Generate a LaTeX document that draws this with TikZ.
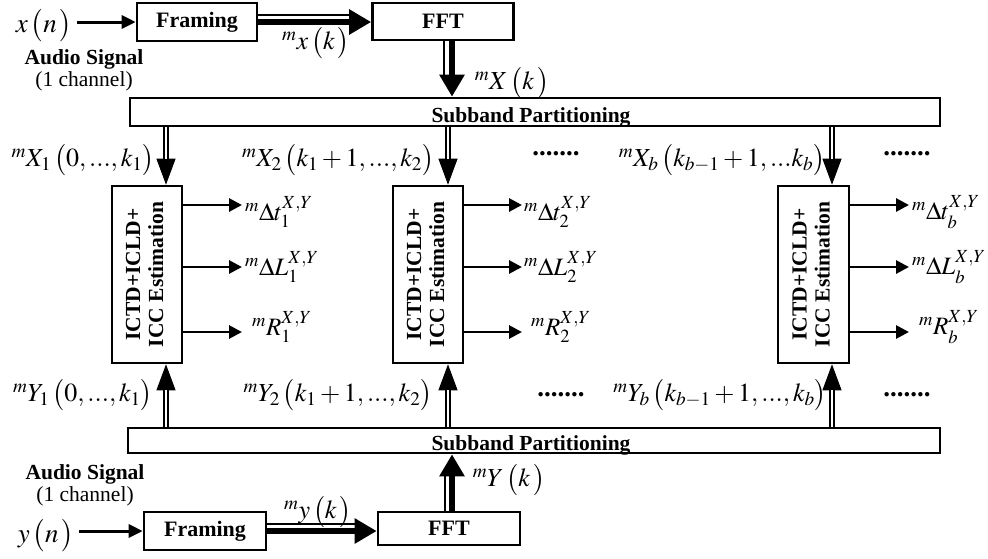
\documentclass[tikz,border=0pt]{standalone}
\usepackage{mathptmx}
\usepackage[no-math]{fontspec}
\setmainfont{Liberation Serif}
\usepackage{graphicx}
\usetikzlibrary{arrows.meta}

\tikzset{
  blk/.style={draw, line width=2.6pt, inner sep=0pt, font=\bfseries\fontsize{22}{24}\selectfont},
  lbl/.style={inner sep=0pt, font=\fontsize{26}{28}\selectfont},
  biglbl/.style={inner sep=0pt, font=\fontsize{27}{30}\selectfont},
  outlbl/.style={inner sep=0pt, anchor=west, font=\fontsize{25}{28}\selectfont},
  note/.style={inner sep=0pt, align=center, font=\fontsize{21.5}{22}\selectfont},
  boldlbl/.style={inner sep=0pt, anchor=base, font=\bfseries\fontsize{21.5}{23}\selectfont},
  dotlbl/.style={inner sep=0pt, font=\bfseries\fontsize{27}{28}\selectfont},
  fatline/.style={line width=6pt, -{Triangle[length=22pt,width=24pt]}},
  slim/.style={line width=1.6pt},
  inarrow/.style={line width=3pt, shorten <=5pt, -{Triangle[length=14pt,width=13pt]}},
  outarrow/.style={line width=2.8pt, -{Triangle[length=13pt,width=13pt]}},
  tiparrow/.style={line width=1pt, -{Triangle[length=26pt,width=19pt]}},
  dbl/.style={double, line width=1.6pt, double distance=2.6pt, shorten >=26pt},
  est/.style={blk, minimum width=70pt, minimum height=177pt, font=\bfseries\fontsize{21.5}{23}\selectfont},
}
\newcommand{\esttext}{\rotatebox{90}{\begin{tabular}{@{}c@{}}ICTD+ICLD+\\ICC Estimation\end{tabular}}}

\begin{document}
\begin{tikzpicture}[x=1pt, y=-1pt]
\useasboundingbox (0,0) rectangle (988,558);

% x positions of the vertical connectors
\coordinate (c1) at (166,0);
\coordinate (c2) at (448,0);
\coordinate (c3) at (832,0);
\coordinate (vx) at (452,0);

% ---------- upper channel ----------
\node[biglbl] (xn) at (44,26) {$x\,\bigl(n\,\bigr)$};
\node[note] (aud1) at (84,70) {\textbf{Audio Signal}\\(1 channel)};
\node[blk, minimum width=120pt, minimum height=38pt] (fr1) at (197,22) {Framing};
\node[blk, minimum width=141pt, minimum height=37pt] (fft1) at (443,21.5) {FFT};
\node[lbl] (mxk) at (316,43) {${}^{m}x\,\bigl(k\,\bigr)$};
\node[lbl] (mXk) at (512,83) {${}^{m}X\,\bigl(k\,\bigr)$};
\node[blk, minimum width=810pt, minimum height=28pt] (sb1) at (535,112) {};
\node[boldlbl] (sb1t) at (531,122) {Subband Partitioning};

\draw[inarrow] (xn.east |- fr1.west) -- (fr1.west);
\draw[fatline] (fr1.east) -- (fr1.east -| fft1.west);
\draw[slim] ([yshift=7pt]fr1.east) -- ([yshift=7pt,xshift=-21pt]fr1.east -| fft1.west);
\draw[fatline] (fft1.south -| vx) -- (sb1.north -| vx);
\draw[slim] ([xshift=-8pt]fft1.south -| vx) -- ([xshift=-8pt,yshift=21pt]sb1.north -| vx);

\node[lbl] (mX1) at (83,160) {${}^{m}X_1\,\bigl(0,...,k_1\bigr)$};
\node[lbl] (mX2) at (338,160) {${}^{m}X_2\,\bigl(k_1+1,...,k_2\bigr)$};
\node[dotlbl] (dx1) at (556,154) {.......};
\node[lbl] (mXb) at (722,160) {${}^{m}X_b\,\bigl(k_{b-1}+1,...k_b\bigr)$};
\node[dotlbl] (dx2) at (907,154) {.......};

% ---------- estimation blocks ----------
\node[est] (ictd1) at (147,274.5) {\esttext};
\node[est] (ictd2) at (428,274.5) {\esttext};
\node[est, minimum width=71pt] (ictd3) at (813.5,274.5) {\esttext};

\foreach \b/\c in {1/c1, 2/c2, 3/c3}{
  \draw[tiparrow] (sb1.south -| \c) -- (ictd\b.north -| \c);
  \draw[dbl] (sb1.south -| \c) -- (ictd\b.north -| \c);
}

% outputs of each block
\coordinate (o11) at (242,205);
\coordinate (o12) at (242,267);
\coordinate (o13) at (242,332);
\coordinate (o21) at (522,205);
\coordinate (o22) at (522,267);
\coordinate (o23) at (522,332);
\coordinate (o31) at (909,205);
\coordinate (o32) at (909,267);
\coordinate (o33) at (909,332);
\foreach \b in {1,2,3}{
  \foreach \k in {1,2,3}{
    \draw[outarrow] (ictd\b.east |- o\b\k) -- (o\b\k);
  }
}
\node[outlbl] (t1) at (245,212) {${}^{m}\Delta t_1^{X,Y}$};
\node[outlbl] (l1) at (245,267) {${}^{m}\Delta L_1^{X,Y}$};
\node[outlbl] (r1) at (252,327) {${}^{m}R_1^{X,Y}$};
\node[outlbl] (t2) at (524,212) {${}^{m}\Delta t_2^{X,Y}$};
\node[outlbl] (l2) at (524,267) {${}^{m}\Delta L_2^{X,Y}$};
\node[outlbl] (r2) at (531,327) {${}^{m}R_2^{X,Y}$};
\node[outlbl] (t3) at (912,212) {${}^{m}\Delta t_b^{X,Y}$};
\node[outlbl] (l3) at (912,267) {${}^{m}\Delta L_b^{X,Y}$};
\node[outlbl] (r3) at (919,327) {${}^{m}R_b^{X,Y}$};

% ---------- lower channel ----------
\node[lbl] (mY1) at (83,395) {${}^{m}Y_1\,\bigl(0,...,k_1\bigr)$};
\node[lbl] (mY2) at (338,395) {${}^{m}Y_2\,\bigl(k_1+1,...,k_2\bigr)$};
\node[dotlbl] (dy1) at (561,395) {.......};
\node[lbl] (mYb) at (720,395) {${}^{m}Y_b\,\bigl(k_{b-1}+1,...,k_b\bigr)$};
\node[dotlbl] (dy2) at (907,395) {.......};

\node[blk, minimum width=812pt, minimum height=25pt] (sb2) at (534,440.5) {};
\node[boldlbl] (sb2t) at (531,450) {Subband Partitioning};

\foreach \b/\c in {1/c1, 2/c2, 3/c3}{
  \draw[tiparrow] (sb2.north -| \c) -- (ictd\b.south -| \c);
  \draw[dbl] (sb2.north -| \c) -- (ictd\b.south -| \c);
}

\node[note] (aud2) at (85,485) {\textbf{Audio Signal}\\(1 channel)};
\node[biglbl] (yn) at (46,536) {$y\,\bigl(n\,\bigr)$};
\node[blk, minimum width=122pt, minimum height=38pt] (fr2) at (205,531) {Framing};
\node[blk, minimum width=142pt, minimum height=33pt] (fft2) at (449,528.5) {FFT};
\node[lbl] (myk) at (318,512) {${}^{m}y\,\bigl(k\,\bigr)$};
\node[lbl] (mYk) at (509,480) {${}^{m}Y\,\bigl(k\,\bigr)$};

\draw[inarrow] (yn.east |- fr2.west) -- (fr2.west);
\draw[fatline] (fr2.east) -- (fr2.east -| fft2.west);
\draw[slim] ([yshift=7pt]fr2.east) -- ([yshift=7pt,xshift=-21pt]fr2.east -| fft2.west);
\draw[fatline] (fft2.north -| vx) -- (sb2.south -| vx);
\draw[slim] ([xshift=-7pt]fft2.north -| vx) -- ([xshift=-7pt,yshift=-21pt]sb2.south -| vx);
\end{tikzpicture}
\end{document}
